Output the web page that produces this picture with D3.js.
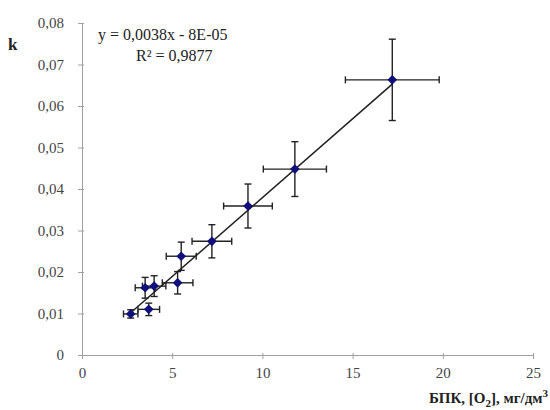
<!DOCTYPE html>
<html>
<head>
<meta charset="utf-8">
<script src="https://cdn.jsdelivr.net/npm/d3@7"></script>
<style>
  body { margin: 0; background: #fff; }
  svg text { font-family: 'Liberation Serif', 'DejaVu Serif', serif !important; }
</style>
</head>
<body>
<svg id="chart" width="550" height="410"></svg>
<script>
// BOD values (x), rate constant k (y), and their error half-widths
const bod  = [2.7, 3.5, 3.7, 4.0, 5.3, 5.5, 7.2, 9.2, 11.8, 17.2];
const kVal = [0.0099, 0.0162, 0.0110, 0.0166, 0.0174, 0.0238, 0.0274, 0.0359, 0.0448, 0.0663];
const bodErr = [0.4, 0.55, 0.6, 0.65, 0.85, 0.83, 1.1, 1.35, 1.75, 2.6];
const kErr   = [0.001, 0.0025, 0.0015, 0.0025, 0.0027, 0.0034, 0.004, 0.0053, 0.0066, 0.0098];
const xTicks = [0, 5, 10, 15, 20, 25];
const yTicks = [0, 0.01, 0.02, 0.03, 0.04, 0.05, 0.06, 0.07, 0.08];
// trend line y = 0.0038x - 8E-05
const slope = 0.0038, intercept = -0.00008;

const data = bod.map((x, i) => ({ x, y: kVal[i], ex: bodErr[i], ey: kErr[i] }));

const svg = d3.select('#chart');
const x = d3.scaleLinear().domain([0, 25]).range([82, 533]);
const y = d3.scaleLinear().domain([0, 0.08]).range([355, 23]);
const fmt = d => String(d).replace('.', ',');

// axes
const xAxis = svg.append('g')
  .attr('transform', 'translate(0,355)')
  .call(d3.axisBottom(x).tickValues(xTicks).tickFormat(fmt).tickSize(4).tickPadding(8));
const yAxis = svg.append('g')
  .attr('transform', 'translate(82,0)')
  .call(d3.axisLeft(y).tickValues(yTicks).tickFormat(d => d === 0 ? '0' : fmt(d.toFixed(2))).tickSize(4).tickPadding(14));
[xAxis, yAxis].forEach(g => {
  g.attr('font-family', null);
  g.select('.domain').attr('stroke', '#a0a0a0');
  g.selectAll('.tick line').attr('stroke', '#a0a0a0');
  g.selectAll('.tick text').attr('fill', '#444').style('font-size', '15px');
});
xAxis.selectAll('.tick line').attr('y1', -2);
yAxis.selectAll('.tick line').attr('x1', 2);

// trend line
const xr = d3.extent(bod);
svg.append('line')
  .attr('x1', x(xr[0])).attr('y1', y(slope * xr[0] + intercept))
  .attr('x2', x(xr[1])).attr('y2', y(slope * xr[1] + intercept))
  .attr('stroke', '#222').attr('stroke-width', 1.5);

// error bars
const eb = svg.append('g').attr('stroke', '#222').attr('stroke-width', 1.4);
const cap = 3.5;
data.forEach(d => {
  eb.append('line').attr('x1', x(d.x - d.ex)).attr('x2', x(d.x + d.ex)).attr('y1', y(d.y)).attr('y2', y(d.y));
  eb.append('line').attr('x1', x(d.x)).attr('x2', x(d.x)).attr('y1', y(d.y - d.ey)).attr('y2', y(d.y + d.ey));
  [d.x - d.ex, d.x + d.ex].forEach(v =>
    eb.append('line').attr('x1', x(v)).attr('x2', x(v)).attr('y1', y(d.y) - cap).attr('y2', y(d.y) + cap));
  [d.y - d.ey, d.y + d.ey].forEach(v =>
    eb.append('line').attr('x1', x(d.x) - cap).attr('x2', x(d.x) + cap).attr('y1', y(v)).attr('y2', y(v)));
});

// markers
svg.append('g').selectAll('path')
  .data(data)
  .enter()
  .append('path')
  .attr('d', d3.symbol(d3.symbolDiamond2, 60))
  .attr('transform', d => `translate(${x(d.x)},${y(d.y)})`)
  .attr('fill', '#10107a');

// equation
svg.append('text').attr('x', 98).attr('y', 40).attr('fill', '#222')
  .style('font-size', '16px').text('y = 0,0038x - 8E-05');
svg.append('text').attr('x', 136).attr('y', 61).attr('fill', '#222')
  .style('font-size', '16px').text('R² = 0,9877');

// axis titles
svg.append('text').attr('x', 8).attr('y', 50).attr('fill', '#222')
  .style('font-size', '17px').style('font-weight', 'bold').text('k');
const xt = svg.append('text').attr('x', 548).attr('y', 403).attr('text-anchor', 'end')
  .attr('fill', '#222').style('font-size', '15px').style('font-weight', 'bold');
xt.append('tspan').text('БПК, [O');
xt.append('tspan').attr('dy', 4).style('font-size', '11px').text('2');
xt.append('tspan').attr('dy', -4).text('], мг/дм');
xt.append('tspan').attr('dy', -6).style('font-size', '11px').text('3');
</script>
</body>
</html>
